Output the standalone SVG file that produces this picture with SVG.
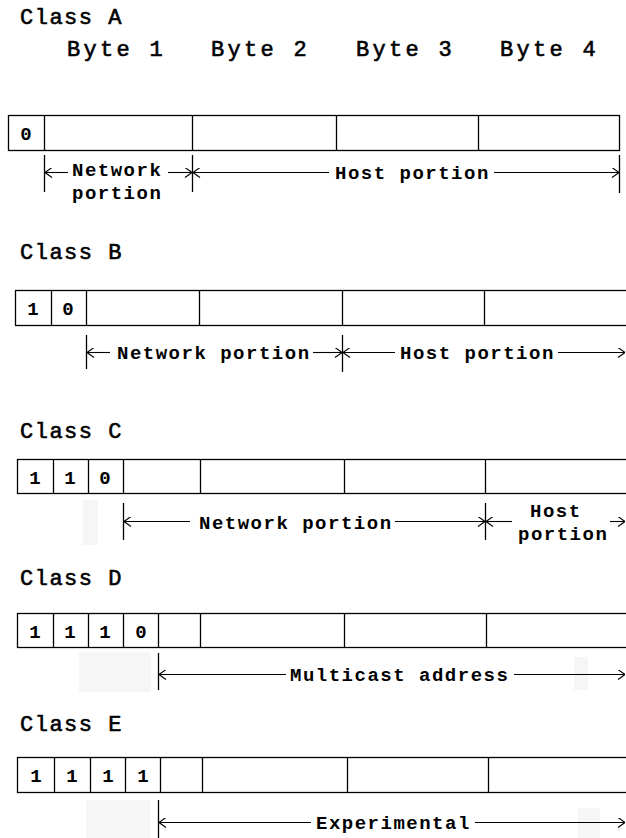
<svg xmlns="http://www.w3.org/2000/svg" width="626" height="838" viewBox="0 0 626 838">
<defs>
<style>
.t{font-family:"Liberation Mono","Courier New",monospace;fill:#000}
.title{font-size:22px;font-weight:normal;letter-spacing:1.5px;stroke:#000;stroke-width:0.6px}
.byte{font-size:22px;font-weight:normal;letter-spacing:3.3px;stroke:#000;stroke-width:0.6px}
.lab{font-size:19px;font-weight:bold;letter-spacing:1.5px}
.dig{font-size:19px;font-weight:bold;text-anchor:middle}
.box{fill:#fff;stroke:#000;stroke-width:1.3}
.div{stroke:#000;stroke-width:1.3}
.tick{stroke:#000;stroke-width:1.3}
.ar{stroke:#000;stroke-width:1.1;fill:none}
.ghost{fill:#f6f6f6}
</style>
<marker id="ah" viewBox="0 0 10 10" refX="10" refY="5" markerWidth="10" markerHeight="10" markerUnits="userSpaceOnUse" orient="auto-start-reverse">
<path d="M3,0 L10,5 L3,10" fill="none" stroke="#000" stroke-width="1.1"/>
</marker>
</defs>
<rect width="626" height="838" fill="#fff"/>
<g id="ghosts">
<rect class="ghost" x="83" y="500" width="15" height="45"/>
<rect class="ghost" x="79" y="652" width="72" height="40"/>
<rect class="ghost" x="574" y="657" width="14" height="33"/>
<rect class="ghost" x="86" y="800" width="64" height="38"/>
<rect class="ghost" x="578" y="808" width="22" height="30"/>
</g>
<g id="classA">
<text class="t title" x="20" y="24">Class A</text>
<text class="t byte" x="67" y="56">Byte 1</text>
<text class="t byte" x="211" y="56">Byte 2</text>
<text class="t byte" x="356" y="56">Byte 3</text>
<text class="t byte" x="500" y="56">Byte 4</text>
<rect class="box" x="8.5" y="115.5" width="611" height="35"/>
<line class="div" x1="44.5" y1="115" x2="44.5" y2="151"/>
<line class="div" x1="192.5" y1="115" x2="192.5" y2="151"/>
<line class="div" x1="336.5" y1="115" x2="336.5" y2="151"/>
<line class="div" x1="478.5" y1="115" x2="478.5" y2="151"/>
<text class="t dig" x="26" y="140">0</text>
<text class="t lab" x="72" y="176">Network</text>
<text class="t lab" x="72" y="199">portion</text>
<text class="t lab" x="335" y="179">Host portion</text>
</g>
<g id="classB">
<text class="t title" x="20" y="259">Class B</text>
<rect class="box" x="15.5" y="290.5" width="620" height="35"/>
<line class="div" x1="51.5" y1="290" x2="51.5" y2="326"/>
<line class="div" x1="86.5" y1="290" x2="86.5" y2="326"/>
<line class="div" x1="199.5" y1="290" x2="199.5" y2="326"/>
<line class="div" x1="342.5" y1="290" x2="342.5" y2="326"/>
<line class="div" x1="484.5" y1="290" x2="484.5" y2="326"/>
<text class="t dig" x="33" y="315">1</text>
<text class="t dig" x="68" y="315">0</text>
<text class="t lab" x="117" y="359">Network portion</text>
<text class="t lab" x="400" y="359">Host portion</text>
</g>
<g id="classC">
<text class="t title" x="20" y="438">Class C</text>
<rect class="box" x="17.5" y="459.5" width="620" height="34"/>
<line class="div" x1="53.5" y1="459" x2="53.5" y2="494"/>
<line class="div" x1="88.5" y1="459" x2="88.5" y2="494"/>
<line class="div" x1="123.5" y1="459" x2="123.5" y2="494"/>
<line class="div" x1="200.5" y1="459" x2="200.5" y2="494"/>
<line class="div" x1="344.5" y1="459" x2="344.5" y2="494"/>
<line class="div" x1="485.5" y1="459" x2="485.5" y2="494"/>
<text class="t dig" x="35" y="484">1</text>
<text class="t dig" x="70" y="484">1</text>
<text class="t dig" x="105" y="484">0</text>
<text class="t lab" x="199" y="529">Network portion</text>
<text class="t lab" x="530" y="517">Host</text>
<text class="t lab" x="518" y="540">portion</text>
</g>
<g id="classD">
<text class="t title" x="20" y="585">Class D</text>
<rect class="box" x="17.5" y="613.5" width="620" height="34"/>
<line class="div" x1="53.5" y1="613" x2="53.5" y2="648"/>
<line class="div" x1="88.5" y1="613" x2="88.5" y2="648"/>
<line class="div" x1="123.5" y1="613" x2="123.5" y2="648"/>
<line class="div" x1="158.5" y1="613" x2="158.5" y2="648"/>
<line class="div" x1="200.5" y1="613" x2="200.5" y2="648"/>
<line class="div" x1="344.5" y1="613" x2="344.5" y2="648"/>
<line class="div" x1="486.5" y1="613" x2="486.5" y2="648"/>
<text class="t dig" x="35" y="638">1</text>
<text class="t dig" x="70" y="638">1</text>
<text class="t dig" x="105" y="638">1</text>
<text class="t dig" x="141" y="638">0</text>
<text class="t lab" x="290" y="681">Multicast address</text>
</g>
<g id="classE">
<text class="t title" x="20" y="731">Class E</text>
<rect class="box" x="17.5" y="757.5" width="620" height="35"/>
<line class="div" x1="54.5" y1="757" x2="54.5" y2="793"/>
<line class="div" x1="90.5" y1="757" x2="90.5" y2="793"/>
<line class="div" x1="125.5" y1="757" x2="125.5" y2="793"/>
<line class="div" x1="160.5" y1="757" x2="160.5" y2="793"/>
<line class="div" x1="202.5" y1="757" x2="202.5" y2="793"/>
<line class="div" x1="347.5" y1="757" x2="347.5" y2="793"/>
<line class="div" x1="488.5" y1="757" x2="488.5" y2="793"/>
<text class="t dig" x="36" y="782">1</text>
<text class="t dig" x="72" y="782">1</text>
<text class="t dig" x="108" y="782">1</text>
<text class="t dig" x="143" y="782">1</text>
<text class="t lab" x="316" y="829">Experimental</text>
</g>
<g id="connectors">
<line class="tick" x1="44.5" y1="155" x2="44.5" y2="192"/>
<line class="tick" x1="192.5" y1="155" x2="192.5" y2="192"/>
<line class="tick" x1="619.5" y1="155" x2="619.5" y2="193"/>
<line class="ar" x1="45" y1="172.5" x2="68" y2="172.5" marker-start="url(#ah)"/>
<line class="ar" x1="168" y1="172.5" x2="192" y2="172.5" marker-end="url(#ah)"/>
<line class="ar" x1="193" y1="172.5" x2="329" y2="172.5" marker-start="url(#ah)"/>
<line class="ar" x1="494" y1="172.5" x2="619" y2="172.5" marker-end="url(#ah)"/>
<line class="tick" x1="86.5" y1="335" x2="86.5" y2="369"/>
<line class="tick" x1="342.5" y1="335" x2="342.5" y2="372"/>
<line class="ar" x1="87" y1="352.5" x2="110" y2="352.5" marker-start="url(#ah)"/>
<line class="ar" x1="313" y1="352.5" x2="342" y2="352.5" marker-end="url(#ah)"/>
<line class="ar" x1="343" y1="352.5" x2="395" y2="352.5" marker-start="url(#ah)"/>
<line class="ar" x1="558" y1="352.5" x2="625" y2="352.5" marker-end="url(#ah)"/>
<line class="tick" x1="123.5" y1="503" x2="123.5" y2="540"/>
<line class="tick" x1="485.5" y1="503" x2="485.5" y2="540"/>
<line class="ar" x1="124" y1="521.5" x2="190" y2="521.5" marker-start="url(#ah)"/>
<line class="ar" x1="395" y1="521.5" x2="485" y2="521.5" marker-end="url(#ah)"/>
<line class="ar" x1="486" y1="521.5" x2="512" y2="521.5" marker-start="url(#ah)"/>
<line class="ar" x1="610" y1="521.5" x2="625" y2="521.5" marker-end="url(#ah)"/>
<line class="tick" x1="158.5" y1="653" x2="158.5" y2="690"/>
<line class="ar" x1="159" y1="674.5" x2="286" y2="674.5" marker-start="url(#ah)"/>
<line class="ar" x1="514" y1="674.5" x2="625" y2="674.5" marker-end="url(#ah)"/>
<line class="tick" x1="158.5" y1="800" x2="158.5" y2="838"/>
<line class="ar" x1="159" y1="822.5" x2="311" y2="822.5" marker-start="url(#ah)"/>
<line class="ar" x1="475" y1="822.5" x2="625" y2="822.5" marker-end="url(#ah)"/>
</g>
</svg>
